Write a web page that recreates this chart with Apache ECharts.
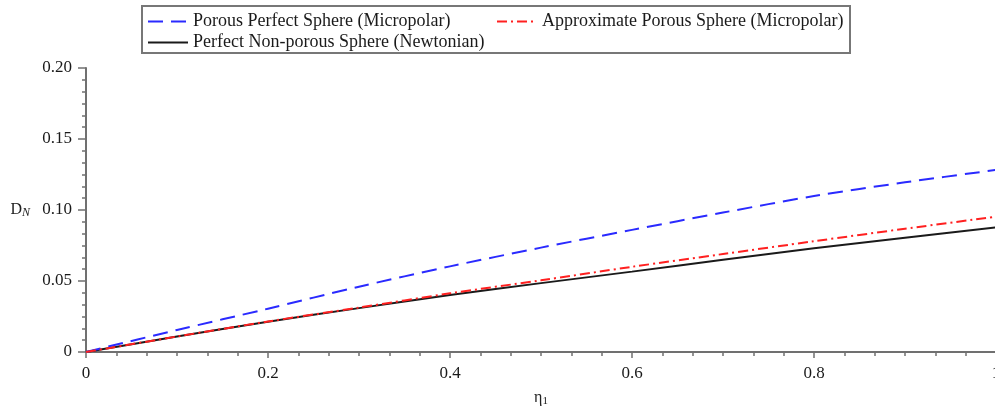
<!DOCTYPE html>
<html>
<head>
<meta charset="utf-8">
<script src="https://cdn.jsdelivr.net/npm/echarts@6/dist/echarts.min.js"></script>
<style>html,body{margin:0;padding:0;background:#fff;}#c{width:995px;height:407px;}</style>
</head>
<body>
<div id="c"></div>
<script>
var xValues = [0, 0.1, 0.2, 0.3, 0.4, 0.5, 0.6, 0.7, 0.8, 0.9, 1.0];
var porousPerfect = [0, 0.0155, 0.0305, 0.0460, 0.0603, 0.0735, 0.0860, 0.0982, 0.1098, 0.1195, 0.1282];
var approxPorous = [0, 0.0109, 0.0215, 0.0313, 0.0413, 0.0505, 0.0600, 0.0690, 0.0780, 0.0868, 0.0953];
var newtonian = [0, 0.0109, 0.0213, 0.0309, 0.0401, 0.0485, 0.0566, 0.0650, 0.0730, 0.0805, 0.0878];
var seriesNames = ['Porous Perfect Sphere (Micropolar)', 'Approximate Porous Sphere (Micropolar)', 'Perfect Non-porous Sphere (Newtonian)'];
var xTicks = ['0', '0.2', '0.4', '0.6', '0.8', '1'];
var yTicks = ['0', '0.05', '0.10', '0.15', '0.20'];

function pairs(ys) { return xValues.map(function (x, i) { return [x, ys[i]]; }); }
var font = '"Liberation Serif", "DejaVu Serif", serif';
var textColor = '#1a1a1a';
var axisColor = '#707070';

var chart = echarts.init(document.getElementById('c'));
chart.setOption({
  animation: false,
  backgroundColor: '#fff',
  textStyle: { fontFamily: font },
  legend: {
    left: 142, top: 6, width: 700,
    orient: 'horizontal',
    padding: [5, 5, 0, 5],
    itemGap: 0,
    itemWidth: 40, itemHeight: 14,
    borderColor: '#777', borderWidth: 2,
    itemStyle: { opacity: 0 },
    textStyle: { fontFamily: font, fontSize: 18, color: textColor, width: 303, lineHeight: 21 },
    data: seriesNames
  },
  grid: { left: 86, top: 68, width: 910, height: 284, containLabel: false, outerBoundsMode: 'none' },
  xAxis: {
    type: 'value', min: 0, max: 1, interval: 0.2,
    name: 'η{s|1}',
    nameLocation: 'middle', nameGap: 36,
    nameTextStyle: { fontFamily: font, fontSize: 16, color: '#222', rich: { s: { fontSize: 11, verticalAlign: 'bottom', padding: [8, 0, 0, 0], fontFamily: font } } },
    axisLine: { lineStyle: { color: axisColor, width: 2 } },
    axisTick: { length: 6, lineStyle: { color: axisColor, width: 1.5 } },
    minorTick: { show: true, splitNumber: 6, length: 4, lineStyle: { color: axisColor, width: 1.5 } },
    splitLine: { show: false },
    axisLabel: {
      fontFamily: font, fontSize: 17, color: textColor, margin: 13,
      formatter: function (v) { return xTicks[Math.round(v / 0.2)]; }
    }
  },
  yAxis: {
    type: 'value', min: 0, max: 0.2, interval: 0.05,
    name: 'D{s|N}',
    nameLocation: 'middle', nameRotate: 0, nameGap: 56,
    nameTextStyle: { fontFamily: font, fontSize: 16, color: '#222', rich: { s: { fontSize: 12, fontStyle: 'italic', padding: [6, 0, 0, 0], fontFamily: font } } },
    axisLine: { show: true, lineStyle: { color: axisColor, width: 2 } },
    axisTick: { show: true, length: 8, lineStyle: { color: axisColor, width: 1.5 } },
    minorTick: { show: true, splitNumber: 6, length: 4, lineStyle: { color: axisColor, width: 1.5 } },
    splitLine: { show: false },
    axisLabel: {
      fontFamily: font, fontSize: 17, color: textColor, margin: 14,
      formatter: function (v) { return yTicks[Math.round(v / 0.05)]; }
    }
  },
  series: [
    { name: seriesNames[0], type: 'line', data: pairs(porousPerfect), smooth: 0.3, symbol: 'none',
      lineStyle: { color: '#2a2aff', width: 2, type: [15, 8] }, itemStyle: { color: '#2a2aff' }, z: 3 },
    { name: seriesNames[1], type: 'line', data: pairs(approxPorous), smooth: 0.3, symbol: 'none',
      lineStyle: { color: '#ff2020', width: 2, type: [10, 4, 2, 4] }, itemStyle: { color: '#ff2020' }, z: 3 },
    { name: seriesNames[2], type: 'line', data: pairs(newtonian), smooth: 0.3, symbol: 'none',
      lineStyle: { color: '#1a1a1a', width: 2 }, itemStyle: { color: '#1a1a1a' }, z: 2 }
  ]
});
</script>
</body>
</html>
